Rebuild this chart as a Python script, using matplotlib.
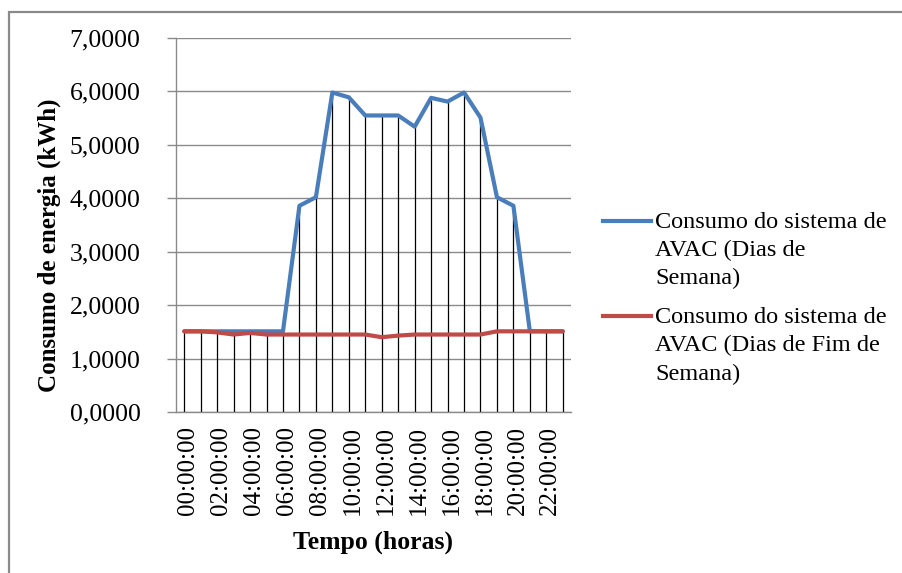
import matplotlib
matplotlib.use("Agg")
import matplotlib.pyplot as plt
from matplotlib.patches import Rectangle
from matplotlib.lines import Line2D
from matplotlib.ticker import FuncFormatter
import matplotlib.transforms as mtransforms

hours = [f"{h:02d}:00:00" for h in range(24)]
weekday = [1.51, 1.51, 1.51, 1.51, 1.51, 1.51, 1.51, 3.86, 4.02, 5.98, 5.89, 5.55,
           5.55, 5.55, 5.34, 5.88, 5.81, 5.98, 5.51, 4.02, 3.86, 1.51, 1.51, 1.51]
weekend = [1.51, 1.51, 1.49, 1.45, 1.48, 1.45, 1.45, 1.45, 1.45, 1.45, 1.45, 1.45,
           1.40, 1.43, 1.45, 1.45, 1.45, 1.45, 1.45, 1.51, 1.51, 1.51, 1.51, 1.51]
series_names = [["Consumo do sistema de", "AVAC (Dias de", "Semana)"],
                ["Consumo do sistema de", "AVAC (Dias de Fim de", "Semana)"]]
y_ticks = [0, 1, 2, 3, 4, 5, 6, 7]

plt.rcParams['font.family'] = ['Liberation Serif', 'DejaVu Serif']
FS = 18.5
W, H = 903, 573

fig = plt.figure(figsize=(9.03, 5.73), dpi=100)
fig.patches.append(Rectangle((9 / W, -0.1), 1.2, (H - 12) / H + 0.1,
                             transform=fig.transFigure, fill=False,
                             edgecolor='#8a8a8a', linewidth=1.6))

ax = fig.add_axes([176 / W, 161 / H, 395 / W, 374 / H])
x = list(range(len(hours)))

ax.vlines(x, 0, [max(a, b) for a, b in zip(weekday, weekend)],
          colors='black', linewidth=0.9, zorder=2)
l1, = ax.plot(x, weekday, color='#4a7ebb', linewidth=3.0, zorder=3,
              solid_capstyle='round', solid_joinstyle='round')
l2, = ax.plot(x, weekend, color='#be4b48', linewidth=3.0, zorder=4,
              solid_capstyle='round', solid_joinstyle='round')

ax.set_xlim(-0.5, 23.5)
ax.set_ylim(0, 7)
ax.set_yticks(y_ticks)
ax.yaxis.set_major_formatter(FuncFormatter(lambda v, p: f"{v:.4f}".replace('.', ',')))
ax.grid(axis='y', color='#8a8a8a', linewidth=1.0, zorder=0)
ax.set_axisbelow(True)

# x tick labels (every 2 hours), drawn at category positions
ax.set_xticks(x[::2])
ax.set_xticklabels([])
ax.tick_params(axis='x', length=0)
off = mtransforms.ScaledTranslation(4 / 100, -14 / 100, fig.dpi_scale_trans)
xtrans = mtransforms.blended_transform_factory(ax.transData, ax.transAxes) + off
for i in x[::2]:
    ax.text(i, 0, hours[i], rotation=90, ha='center', va='top',
            fontsize=18, transform=xtrans, clip_on=False)

ax.tick_params(axis='y', length=6.5, width=1.0, color='#8a8a8a', pad=19, labelsize=FS)

for s in ['top', 'right']:
    ax.spines[s].set_visible(False)
for s in ['left', 'bottom']:
    ax.spines[s].set_color('#8a8a8a')
    ax.spines[s].set_linewidth(1.0)

ax.set_xlabel("Tempo (horas)", fontsize=FS, fontweight='bold')
ax.set_ylabel("Consumo de energia (kWh)", fontsize=18, fontweight='bold')
ax.xaxis.set_label_coords(0.5, -0.318)
ax.yaxis.set_label_coords(-0.29, 0.4465)

# legend (handle aligned with first text line, as in the reference)
LFS = 17.5
handle_y = [221, 316]
baselines = [[227.5, 255.8, 284.0], [323.0, 351.3, 379.6]]
for line, hy, lines, bls in zip([l1, l2], handle_y, series_names, baselines):
    fig.add_artist(Line2D([603 / W, 651 / W], [1 - hy / H, 1 - hy / H],
                          transform=fig.transFigure, color=line.get_color(),
                          linewidth=3.0))
    for txt, bl in zip(lines, bls):
        fig.text(655 / W, 1 - bl / H, txt, fontsize=LFS, ha='left', va='baseline')

fig.savefig("out.png", dpi=100)
